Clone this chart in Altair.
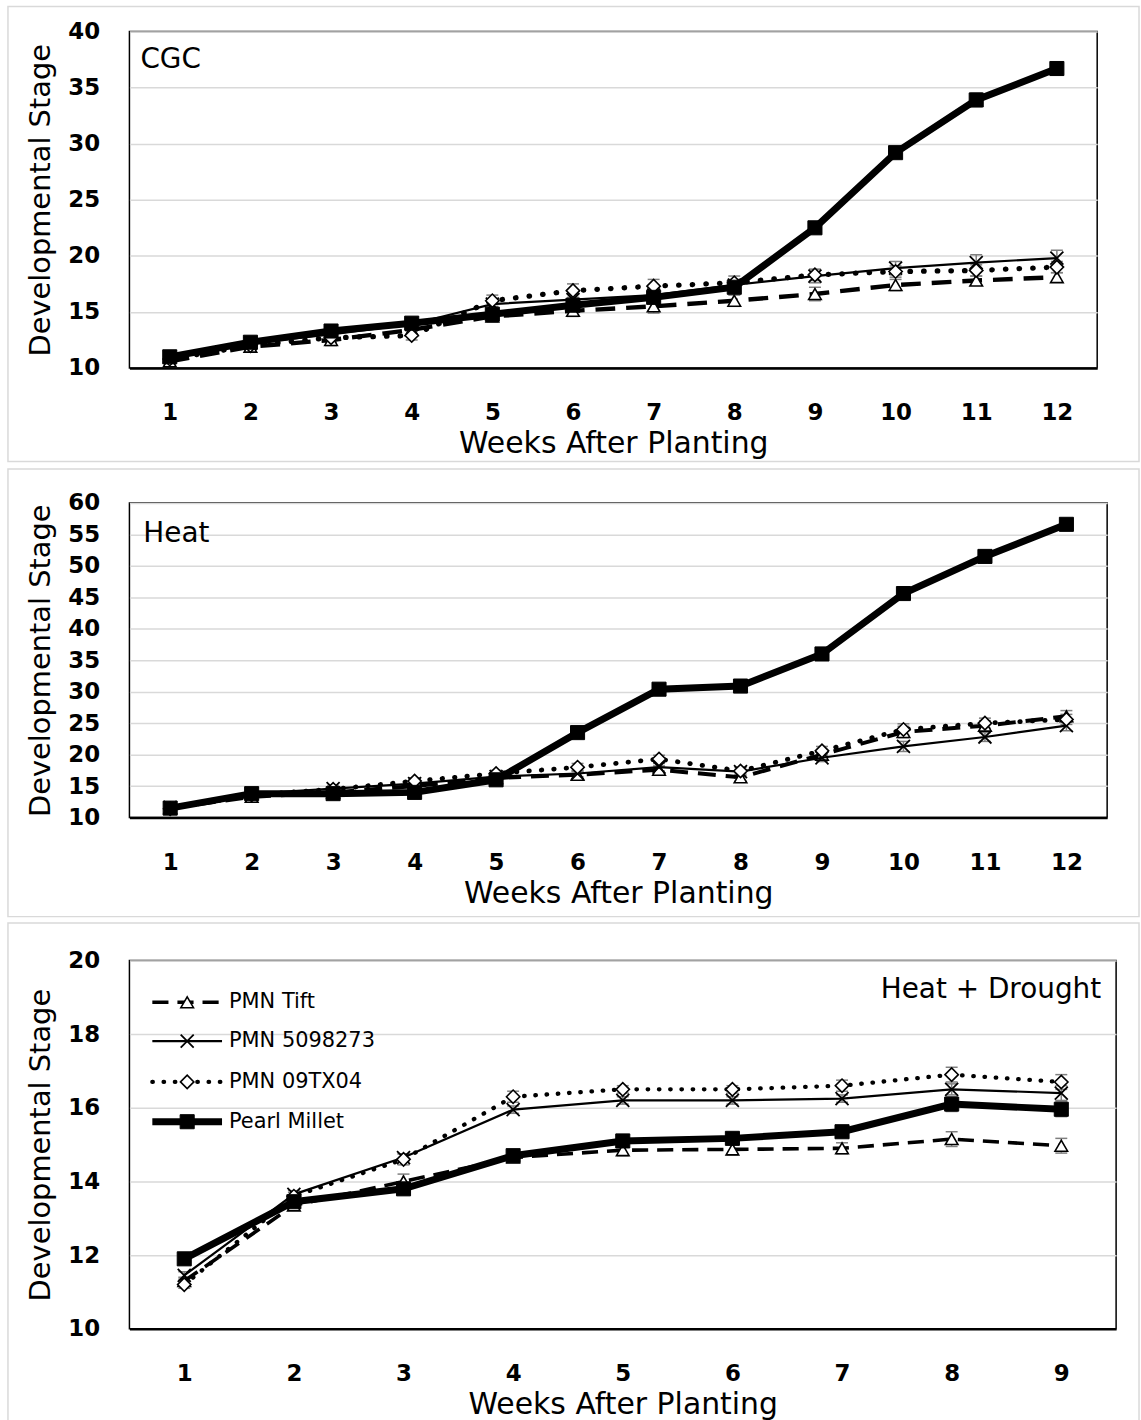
import altair as alt
import pandas as pd

series_names = ["PMN Tift", "PMN 5098273", "PMN 09TX04", "Pearl Millet"]

# ---------------- CGC ----------------
cgc_weeks = list(range(1, 13))
cgc_tift = [10.6, 11.9, 12.5, 13.4, 14.6, 15.1, 15.5, 16.0, 16.6, 17.4, 17.8, 18.1]
cgc_5098273 = [11.0, 12.2, 13.0, 13.9, 15.7, 16.1, 16.5, 17.4, 18.2, 18.9, 19.4, 19.8]
cgc_09tx04 = [10.8, 12.0, 12.7, 12.9, 16.0, 16.9, 17.3, 17.6, 18.3, 18.6, 18.7, 19.0]
cgc_pearl = [11.0, 12.3, 13.3, 14.0, 14.8, 15.6, 16.3, 17.2, 22.5, 29.2, 33.9, 36.7]
cgc_tift_err = [0.3, 0.4, 0.5, 0.4, 0.5, 0.5, 0.6, 0.5, 0.6, 0.5, 0.4, 0.4]
cgc_5098273_err = [0.4, 0.4, 0.4, 0.4, 0.5, 0.5, 0.5, 0.5, 0.6, 0.6, 0.7, 0.7]
cgc_09tx04_err = [0.3, 0.3, 0.4, 0.4, 0.5, 0.6, 0.6, 0.6, 0.5, 0.5, 0.5, 0.5]
cgc_pearl_err = [0.4, 0.3, 0.4, 0.3, 0.3, 0.3, 0.3, 0.3, 0.3, 0.4, 0.6, 0.6]

# ---------------- Heat ----------------
heat_weeks = list(range(1, 13))
heat_tift = [11.5, 13.3, 14.0, 15.0, 16.3, 16.8, 17.6, 16.4, 20.0, 23.6, 24.6, 26.1]
heat_5098273 = [11.6, 13.8, 14.6, 15.4, 16.5, 17.0, 18.0, 17.3, 19.5, 21.3, 22.8, 24.6]
heat_09tx04 = [11.4, 13.6, 14.5, 15.8, 17.0, 18.0, 19.3, 17.4, 20.6, 24.0, 25.0, 25.6]
heat_pearl = [11.5, 13.8, 13.8, 14.0, 16.0, 23.5, 30.4, 30.9, 36.0, 45.6, 51.5, 56.6]
heat_tift_err = [0.4, 0.4, 0.5, 0.5, 0.5, 0.5, 0.6, 0.6, 0.7, 0.9, 0.8, 0.9]
heat_5098273_err = [0.4, 0.4, 0.5, 0.5, 0.5, 0.5, 0.6, 0.6, 0.6, 0.8, 0.7, 0.8]
heat_09tx04_err = [0.4, 0.4, 0.5, 0.5, 0.5, 0.6, 0.6, 0.6, 0.7, 0.9, 0.8, 0.8]
heat_pearl_err = [0.3, 0.3, 0.3, 0.3, 0.3, 0.3, 0.3, 0.3, 0.3, 0.7, 0.5, 0.5]

# ---------------- Heat + Drought ----------------
hd_weeks = list(range(1, 10))
hd_tift = [11.3, 13.35, 14.0, 14.65, 14.85, 14.87, 14.9, 15.15, 14.97]
hd_5098273 = [11.45, 13.65, 14.65, 15.95, 16.2, 16.2, 16.25, 16.5, 16.4]
hd_09tx04 = [11.2, 13.6, 14.6, 16.3, 16.5, 16.5, 16.6, 16.9, 16.7]
hd_pearl = [11.9, 13.45, 13.8, 14.7, 15.1, 15.17, 15.35, 16.1, 15.96]
hd_tift_err = [0.1, 0.1, 0.2, 0.1, 0.15, 0.15, 0.15, 0.2, 0.2]
hd_5098273_err = [0.1, 0.1, 0.1, 0.1, 0.1, 0.1, 0.1, 0.15, 0.2]
hd_09tx04_err = [0.1, 0.1, 0.15, 0.15, 0.1, 0.1, 0.15, 0.2, 0.2]
hd_pearl_err = [0.1, 0.1, 0.1, 0.1, 0.1, 0.1, 0.1, 0.2, 0.2]

FONT = "DejaVu Sans"
X_PATH = "M-1,-1L1,1M-1,1L1,-1"


def line_styles(scale):
    # scale: relative thickness/dash size of a panel
    return {
        "PMN Tift": dict(strokeWidth=4 * scale, strokeDash=[18 * scale, 10 * scale], color="black"),
        "PMN 5098273": dict(strokeWidth=2.2, color="black"),
        "PMN 09TX04": dict(strokeWidth=4.8 * scale, strokeDash=[0.5, 12 * scale],
                           strokeCap="round", color="black"),
        "Pearl Millet": dict(strokeWidth=7, color="black"),
    }


point_styles = {
    "PMN Tift": dict(shape="triangle-up", filled=True, fill="white", stroke="black", strokeWidth=1.6, size=160, opacity=1),
    "PMN 5098273": dict(shape=X_PATH, filled=False, stroke="black", strokeWidth=1.8, size=170, opacity=1),
    "PMN 09TX04": dict(shape="diamond", filled=True, fill="white", stroke="black", strokeWidth=1.6, size=180, opacity=1),
    "Pearl Millet": dict(shape="square", filled=True, fill="black", stroke="black", strokeWidth=1, size=200, opacity=1),
}


def make_df(weeks, vals, errs):
    rows = []
    for name, v, e in zip(series_names, vals, errs):
        for w, y, d in zip(weeks, v, e):
            rows.append({"week": w, "value": y, "lo": y - d, "hi": y + d, "series": name})
    return pd.DataFrame(rows)


def panel(df, weeks, ymin, ymax, ystep, width, height, label, label_xy, label_align,
          frame, dash_scale, legend=False):
    ls = line_styles(dash_scale)
    xs = alt.Scale(domain=[0.5, max(weeks) + 0.5], nice=False, zero=False)
    ys = alt.Scale(domain=[ymin, ymax], nice=False, zero=False)
    xaxis = alt.Axis(values=weeks, format="d", title="Weeks After Planting", grid=False,
                     ticks=False, tickSize=0, domainColor="black", domainWidth=2.5,
                     labelFont=FONT, labelFontWeight="bold", labelFontSize=23,
                     labelColor="black", labelPadding=45, labelBaseline="middle",
                     titleFont=FONT, titleFontWeight="normal", titleFontSize=30,
                     titleColor="black", titleY=76, titleBaseline="middle")
    yaxis = alt.Axis(values=list(range(ymin, ymax + 1, ystep)), format="d",
                     title="Developmental Stage", grid=True, gridColor="#d9d9d9",
                     gridWidth=1.5, ticks=False, tickSize=0, domain=False,
                     labelFont=FONT, labelFontWeight="bold", labelFontSize=23,
                     labelColor="black", labelPadding=30,
                     titleFont=FONT, titleFontWeight="normal", titleFontSize=29,
                     titleColor="black", titleAngle=270, titleX=-89, titleY=height / 2,
                     titleAlign="center", titleBaseline="middle")

    base = alt.Chart(df)
    layers = []
    fx0, fy0, fx1, fy1 = frame
    layers.append(
        alt.Chart(pd.DataFrame({"f": [label]})).mark_rect(
            fill="transparent", stroke="#d9d9d9", strokeWidth=1.5
        ).encode(x=alt.value(fx0), x2=alt.value(fx1), y=alt.value(fy0), y2=alt.value(fy1))
    )
    # error bars
    for name in series_names:
        sub = base.transform_filter(alt.datum.series == name)
        layers.append(sub.mark_rule(color="#7f7f7f", strokeWidth=1.5).encode(
            x=alt.X("week:Q", scale=xs, axis=xaxis),
            y=alt.Y("lo:Q", scale=ys, axis=yaxis), y2="hi:Q"))
        for f in ["lo", "hi"]:
            layers.append(sub.mark_tick(color="#7f7f7f", orient="horizontal", size=12,
                                        thickness=1.5, opacity=1).encode(
                x=alt.X("week:Q", scale=xs, axis=xaxis),
                y=alt.Y(f"{f}:Q", scale=ys, axis=yaxis)))
    for name in series_names:
        sub = base.transform_filter(alt.datum.series == name)
        layers.append(sub.mark_line(**ls[name]).encode(
            x=alt.X("week:Q", scale=xs, axis=xaxis),
            y=alt.Y("value:Q", scale=ys, axis=yaxis)))
        layers.append(sub.mark_point(**point_styles[name]).encode(
            x=alt.X("week:Q", scale=xs, axis=xaxis),
            y=alt.Y("value:Q", scale=ys, axis=yaxis)))
    # panel label
    layers.append(
        alt.Chart(pd.DataFrame({"t": [label]})).mark_text(
            align=label_align, baseline="middle", font=FONT, fontSize=28, color="black"
        ).encode(text="t:N", x=alt.value(label_xy[0]), y=alt.value(label_xy[1]))
    )
    if legend:
        rows_y = [42, 81, 122, 162]
        for name, ry in zip(series_names, rows_y):
            ldf = pd.DataFrame({"s": [name]})
            layers.append(alt.Chart(ldf).mark_rule(**ls[name]).encode(
                x=alt.value(23), x2=alt.value(93), y=alt.value(ry)))
            layers.append(alt.Chart(ldf).mark_point(**point_styles[name]).encode(
                x=alt.value(58), y=alt.value(ry)))
            layers.append(alt.Chart(ldf).mark_text(
                align="left", baseline="middle", font=FONT, fontSize=21, color="black"
            ).encode(text="s:N", x=alt.value(100), y=alt.value(ry)))
    return alt.layer(*layers).properties(width=width, height=height)


cgc_df = make_df(cgc_weeks, [cgc_tift, cgc_5098273, cgc_09tx04, cgc_pearl],
                 [cgc_tift_err, cgc_5098273_err, cgc_09tx04_err, cgc_pearl_err])
heat_df = make_df(heat_weeks, [heat_tift, heat_5098273, heat_09tx04, heat_pearl],
                  [heat_tift_err, heat_5098273_err, heat_09tx04_err, heat_pearl_err])
hd_df = make_df(hd_weeks, [hd_tift, hd_5098273, hd_09tx04, hd_pearl],
                [hd_tift_err, hd_5098273_err, hd_09tx04_err, hd_pearl_err])

# frames (outer grey borders) define each panel's bounds; plot tops at 31, 502, 960
top = panel(cgc_df, cgc_weeks, 10, 40, 5, 972, 338, "CGC", (11, 29), "left",
            (-122, -25, 1014, 432), 1.1)
mid = panel(heat_df, heat_weeks, 10, 60, 5, 982, 316, "Heat", (14, 31), "left",
            (-122, -34, 1014, 415.5), 1.0)
bot = panel(hd_df, hd_weeks, 10, 20, 2, 991, 370, "Heat + Drought", (976, 30), "right",
            (-122, -37.5, 1014, 470), 0.9, legend=True)

chart = alt.vconcat(top, mid, bot, spacing=3.5).properties(
    padding={"left": 6, "top": 1.5, "right": 0, "bottom": 0},
    background="white",
).configure_view(stroke="black", strokeWidth=1.5)

chart.save("out.html", embed_options={"renderer": "svg", "actions": False})
